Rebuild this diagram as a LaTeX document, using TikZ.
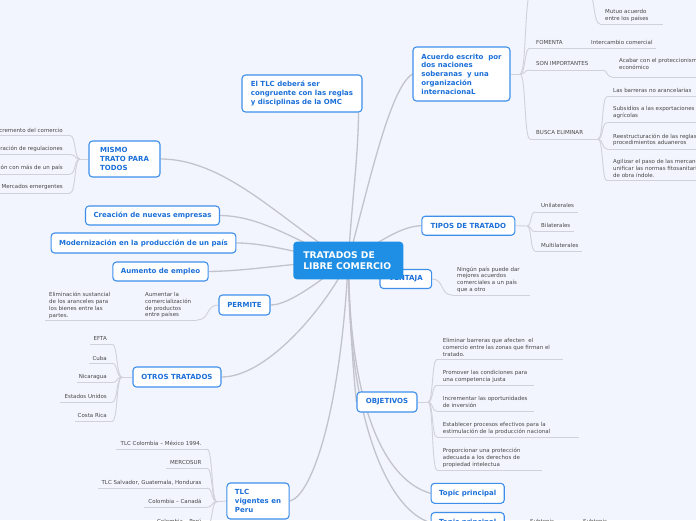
\documentclass[tikz,border=0pt]{standalone}
\usepackage{fontspec}
\setmainfont{DejaVu Sans}
\usetikzlibrary{calc}
\pgfdeclarelayer{back}
\pgfsetlayers{back,main}
\definecolor{bgc}{HTML}{F2F5FD}
\definecolor{topicblue}{HTML}{1B6FD8}
\definecolor{boxline}{HTML}{3D8FEA}
\definecolor{centerblue}{HTML}{1F8FE5}
\definecolor{mainline}{HTML}{C2C3CC}
\definecolor{subline}{HTML}{D0D1DA}
\definecolor{subtext}{HTML}{474747}
\tikzset{
 topic/.style={draw=boxline, line width=1.1pt, rounded corners=3.5pt, fill=white, text=topicblue,
   font=\bfseries\fontsize{7}{8.7}\selectfont, align=left, inner xsep=8pt, inner ysep=3pt},
 centre/.style={fill=centerblue, rounded corners=3.5pt, text=white, font=\bfseries\fontsize{9.2}{11.3}\selectfont,
   align=left, text width=90pt, inner xsep=10pt, minimum height=37.6pt},
 sub/.style={text=subtext, font=\fontsize{5.5}{6.7}\selectfont, inner sep=0pt},
 subl/.style={sub, anchor=north west, align=left},
 subr/.style={sub, anchor=north east, align=right},
 conn/.style={draw=mainline, line width=1.3pt},
 sconn/.style={draw=subline, line width=0.9pt},
}
\newcommand\slink[2]{\draw[sconn] let \p1=(#1), \p2=(#2) in (\p1) .. controls ({\x1+0.6*(\x2-\x1)},\y1) and ({\x1+0.4*(\x2-\x1)},\y2) .. (\p2);}
\begin{document}
\begin{tikzpicture}[x=1pt,y=-1pt]
\useasboundingbox (0,0) rectangle (696,520);
% ---------- topic boxes ----------
\node[topic, minimum width=120, minimum height=37] (omc) at (302,93.5) {El TLC deberá ser\\congruente con las reglas\\y disciplinas de la OMC};
\node[topic, minimum width=97, minimum height=54] (acuerdo) at (461.5,74) {Acuerdo escrito~ por\\dos naciones\\soberanas~ y una\\organización\\internacionaL};
\node[topic, minimum width=71, minimum height=36] (mismo) at (124.5,159) {MISMO\\TRATO PARA\\TODOS};
\node[topic, minimum width=133, minimum height=19] (creacion) at (152.5,215.5) {Creación de nuevas empresas};
\node[topic, minimum width=183, minimum height=20] (modern) at (143.5,243) {Modernización en la producción de un país};
\node[topic, minimum width=95, minimum height=19] (aumento) at (160.5,271.5) {Aumento de empleo};
\node[topic, minimum width=51, minimum height=20] (permite) at (244.5,305) {PERMITE};
\node[topic, minimum width=88, minimum height=20] (otros) at (177,377) {OTROS TRATADOS};
\node[topic, minimum width=62, minimum height=36] (tlcv) at (258,501) {TLC\\vigentes en\\Peru};
\node[topic, minimum width=93, minimum height=19] (tipos) at (468.3,225.7) {TIPOS DE TRATADO};
\node[topic, minimum width=51.7, minimum height=19] (ventaja) at (405.8,279) {VENTAJA};
\node[topic, minimum width=60, minimum height=20] (objetivos) at (387,402) {OBJETIVOS};
\node[topic, minimum width=73, minimum height=20] (tp1) at (467.7,493.3) {Topic principal};
\node[topic, minimum width=73, minimum height=20] (tp2) at (467.7,522.5) {Topic principal};
\node[centre] (C) at (348.3,260.5) {TRATADOS DE\\LIBRE COMERCIO};
% ---------- sub texts ----------
% Acuerdo
\node[subl] (mutuo) at (605,9.5) {Mutuo acuerdo\\entre los países};
\node[sub, anchor=west] (fom) at (536,42) {FOMENTA};
\node[sub, anchor=west] (inter) at (591,42) {Intercambio comercial};
\node[sub, anchor=west] (son) at (536,63.5) {SON IMPORTANTES};
\node[subl] (acabar) at (619,58.5) {Acabar con el proteccionismo\\económico};
\node[sub, anchor=west] (busca) at (536,132.5) {BUSCA ELIMINAR};
\node[subl] (b1) at (613,88) {Las barreras no arancelarias};
\node[subl] (b2) at (613,106.5) {Subsidios a las exportaciones\\agrícolas};
\node[subl] (b3) at (613,133.5) {Reestructuración de las reglas y\\procedimientos aduaneros};
\node[subl] (b4) at (613,159) {Agilizar el paso de las mercancías y\\unificar las normas fitosanitarias y\\de obra índole.};
% Mismo trato
\node[sub, anchor=east] (m1) at (63,130) {Incremento del comercio};
\node[sub, anchor=east] (m2) at (63,149.3) {Administración de regulaciones};
\node[sub, anchor=east] (m3) at (63,168.3) {Negociación con más de un país};
\node[sub, anchor=east] (m4) at (63,187.3) {Mercados emergentes};
% Permite
\node[subl] (p1) at (145,292.3) {Aumentar la\\comercialización\\de productos\\entre países};
\node[subl] (p2) at (49,292.3) {Eliminación sustancial\\de los aranceles para\\los bienes entre las\\partes.};
% Otros tratados
\node[sub, anchor=east] (o1) at (107,338.3) {EFTA};
\node[sub, anchor=east] (o2) at (107,358.3) {Cuba};
\node[sub, anchor=east] (o3) at (107,377.3) {Nicaragua};
\node[sub, anchor=east] (o4) at (107,396.7) {Estados Unidos};
\node[sub, anchor=east] (o5) at (107,415.7) {Costa Rica};
% TLC vigentes
\node[sub, anchor=east] (t1) at (201.7,443.3) {TLC Colombia – México 1994.};
\node[sub, anchor=east] (t2) at (201.7,462.7) {MERCOSUR};
\node[sub, anchor=east] (t3) at (201.7,482.3) {TLC Salvador, Guatemala, Honduras};
\node[sub, anchor=east] (t4) at (201.7,501.7) {Colombia – Canadá};
\node[sub, anchor=east] (t5) at (201.7,521) {Colombia – Perú};
% Tipos
\node[sub, anchor=west] (ti1) at (541,205.7) {Unilaterales};
\node[sub, anchor=west] (ti2) at (541,225.7) {Bilaterales};
\node[sub, anchor=west] (ti3) at (541,245) {Multilaterales};
% Ventaja
\node[subl] (v1) at (457,266.5) {Ningún país puede dar\\mejores acuerdos\\comerciales a un país\\que a otro};
% Objetivos
\node[subl] (ob1) at (442.7,338.5) {Eliminar barreras que afecten~ el\\comercio entre las zonas que firman el\\tratado.};
\node[subl] (ob2) at (442.7,370.2) {Promover las condiciones para\\una competencia justa};
\node[subl] (ob3) at (442.7,396.5) {Incrementar las oportunidades\\de inversión};
\node[subl] (ob4) at (442.7,422.5) {Establecer procesos efectivos para la\\estimulación de la producción nacional};
\node[subl] (ob5) at (442.7,448.2) {Proporcionar una protección\\adecuada a los derechos de\\propiedad intelectua};
% Topic principal 2
\node[sub, anchor=west] (s1) at (530,522) {Subtopic};
\node[sub, anchor=west] (s2) at (583,522) {Subtopic};
% junctions
\coordinate (jA) at (520,74);
\coordinate (jB) at (598,139);
\coordinate (jM) at (80,159);
\coordinate (jO) at (122,377);
\coordinate (jT) at (217,501.7);
\coordinate (jTi) at (527,226);
\coordinate (jOb) at (428,402);
\begin{pgfonlayer}{back}
\fill[bgc] (0,0) rectangle (696,520);
% main connectors
\draw[conn] (C.center) .. controls (352,200) and (358,160) .. ([xshift=-4pt]omc.south east);
\draw[conn] (C.center) .. controls (370,180) and (390,88) .. (acuerdo.west);
\draw[conn] (C.center) .. controls (290,230) and (230,159) .. (mismo.east);
\draw[conn] (C.center) .. controls (300,245) and (265,216) .. (creacion.east);
\draw[conn] (C.center) .. controls (300,255) and (270,243) .. (modern.east);
\draw[conn] (C.center) .. controls (290,263) and (250,271) .. (aumento.east);
\draw[conn] (C.center) .. controls (320,280) and (290,305) .. (permite.east);
\draw[conn] (C.center) .. controls (330,300) and (270,377) .. (otros.east);
\draw[conn] (C.center) .. controls (340,420) and (310,497) .. (tlcv.east);
\draw[conn] (C.center) .. controls (375,245) and (400,226) .. (tipos.west);
\draw[conn] (C.center) -- (ventaja.west);
\draw[conn] (C.center) .. controls (350,330) and (354,380) .. (objetivos.west);
\draw[conn] (C.center) .. controls (350,420) and (390,482) .. (tp1.west);
\draw[conn] (C.center) .. controls (348,430) and (392,512) .. (tp2.west);
% Acuerdo branches
\draw[sconn] (acuerdo.east) -- (jA);
\slink{jA}{531,-8}
\slink{jA}{530,48}
\slink{jA}{530,70}
\slink{jA}{530,139}
\slink{588,-8}{600,24}
\draw[sconn] (600,24) -- (663,24);
\draw[sconn] (530,48) -- (656,48);
\draw[sconn] (530,70) -- (602,70);
\slink{602,70}{612,77}
\draw[sconn] (612,77) -- (700,77);
\draw[sconn] (530,139) -- (jB);
\foreach \yy in {96.7,122.7,149,180.7}{\slink{jB}{607,\yy}\draw[sconn] (607,\yy) -- (700,\yy);}
% Mismo
\draw[sconn] (mismo.west) -- (jM);
\foreach \yy in {135.5,154.5,174,193}{\slink{jM}{70,\yy}\draw[sconn] (70,\yy) -- (-2,\yy);}
% Permite
\slink{permite.west}{197,320}
\draw[sconn] (197,320) -- (45,320);
% Otros
\draw[sconn] (otros.west) -- (jO);
\foreach \yy/\xl in {344/90,363.3/89,382.7/77,402.3/60,421.7/75}{\slink{jO}{112,\yy}\draw[sconn] (112,\yy) -- (\xl,\yy);}
% TLC vigentes
\draw[sconn] (tlcv.west) -- (jT);
\foreach \yy/\xl in {449/116,468.3/166,488/98,507.3/144,526/148}{\slink{jT}{207,\yy}\draw[sconn] (207,\yy) -- (\xl,\yy);}
% Tipos
\draw[sconn] (tipos.east) -- (jTi);
\foreach \yy/\xr in {212/577.7,231.7/574,251/582}{\slink{jTi}{535,\yy}\draw[sconn] (535,\yy) -- (\xr,\yy);}
% Ventaja
\slink{ventaja.east}{452,295}
\draw[sconn] (452,295) -- (530,295);
% Objetivos
\draw[sconn] (objetivos.east) -- (jOb);
\foreach \yy/\xr in {359.3/563,385.3/534,411.3/534,437.3/579,470/541.7}{\slink{jOb}{437,\yy}\draw[sconn] (437,\yy) -- (\xr,\yy);}
\end{pgfonlayer}
\end{tikzpicture}
\end{document}
